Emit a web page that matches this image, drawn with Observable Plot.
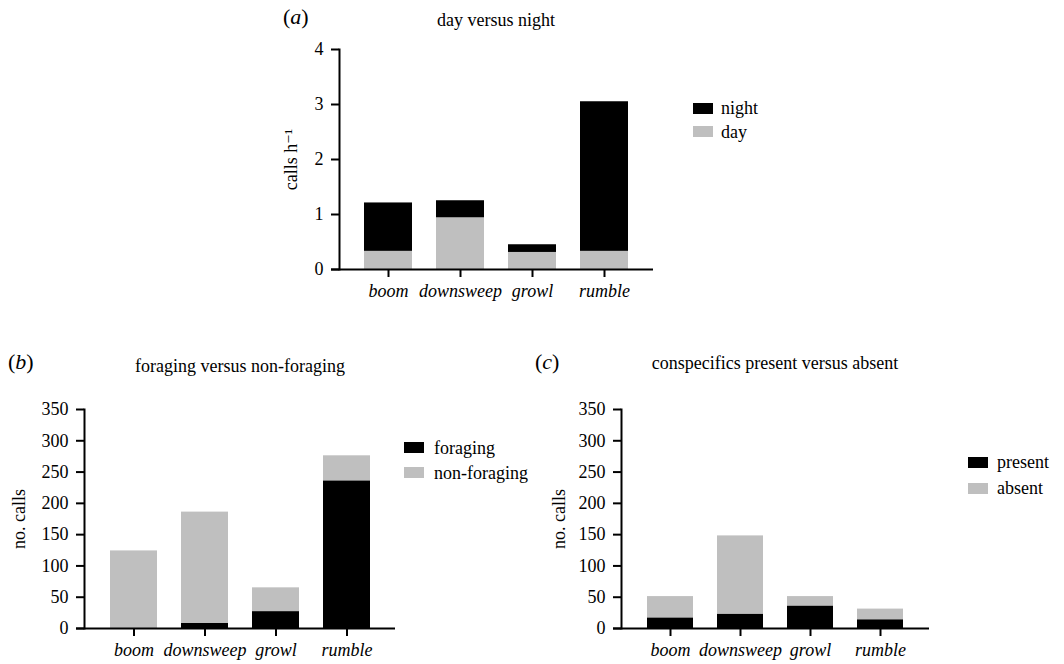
<!DOCTYPE html>
<html><head><meta charset="utf-8">
<script src="https://cdn.jsdelivr.net/npm/d3@7"></script>
<script src="https://cdn.jsdelivr.net/npm/@observablehq/plot@0.6"></script>
<style>
body{margin:0;background:#fff;font-family:"Liberation Serif","DejaVu Serif",serif;}
#root{position:relative;width:1064px;height:664px;overflow:hidden;}
#root svg text{font-family:"Liberation Serif","DejaVu Serif",serif !important;}
.abs{position:absolute;white-space:nowrap;color:#000;line-height:1;transform:translateY(-50%);}
.ctr{transform:translate(-50%,-50%);}
.panel{position:absolute;}
.t{font-size:18px;}
.letter{font-size:22px;}
.sw{position:absolute;width:20px;height:11px;}
</style></head>
<body><div id="root"></div>
<script>
const callTypes = ["boom", "downsweep", "growl", "rumble"];
// (a) day versus night, calls per hour
const dayRate = [0.33, 0.94, 0.31, 0.33];
const nightRate = [0.88, 0.31, 0.14, 2.72];
// (b) foraging versus non-foraging, number of calls
const foragingCount = [0, 8, 27, 236];
const nonForagingCount = [124, 178, 38, 40];
// (c) conspecifics present versus absent, number of calls
const presentCount = [17, 23, 36, 14];
const absentCount = [34, 125, 15, 17];

const ticksA = [0, 1, 2, 3, 4];
const ticksBC = [0, 50, 100, 150, 200, 250, 300, 350];

const BLACK = "#000000", GREY = "#bfbfbf";
const FONT = '"Liberation Serif", "DejaVu Serif", serif';
const root = document.getElementById("root");

function makePanel(o) {
  const rows = [];
  o.cats.forEach((c, i) => rows.push({cat: c, series: o.lowerName, v: o.lower[i]}));
  o.cats.forEach((c, i) => rows.push({cat: c, series: o.upperName, v: o.upper[i]}));
  const chart = Plot.plot({
    width: o.width, height: o.height,
    marginLeft: o.mL, marginRight: o.mR, marginTop: o.mT, marginBottom: o.mB,
    style: {fontFamily: FONT, fontSize: "18px", color: "#000", background: "transparent", overflow: "visible"},
    x: {domain: o.cats, padding: 0.34, label: null},
    y: {domain: o.yDomain, label: null},
    color: {domain: [o.blackName, o.greyName], range: [BLACK, GREY]},
    marks: [
      Plot.barY(rows, Plot.stackY({order: [o.lowerName, o.upperName]}, {x: "cat", y: "v", fill: "series"})),
      Plot.frame({anchor: "left", strokeWidth: 2, stroke: "#000"}),
      Plot.ruleY([0], {strokeWidth: 2, stroke: "#000", insetLeft: -8}),
      Plot.axisY({ticks: o.yTicks, tickFormat: d => String(d), tickSize: 8, tickPadding: 8, strokeWidth: 2,
        fontSize: 18, fontFamily: FONT,
        label: o.yLabel, labelAnchor: "center", labelArrow: "none", labelOffset: o.labelOffset}),
      Plot.axisX({tickSize: 8, tickPadding: 7, strokeWidth: 2, fontSize: 18, fontFamily: FONT, fontStyle: "italic", label: null})
    ]
  });
  const div = document.createElement("div");
  div.className = "panel";
  div.style.left = o.left + "px";
  div.style.top = o.top + "px";
  div.appendChild(chart);
  root.appendChild(div);
}

function text(str, x, y, cls, center) {
  const d = document.createElement("div");
  d.className = "abs " + cls + (center ? " ctr" : "");
  d.style.left = x + "px";
  d.style.top = y + "px";
  d.innerHTML = str;
  root.appendChild(d);
}
function swatch(color, x, y) {
  const d = document.createElement("div");
  d.className = "sw";
  d.style.left = x + "px";
  d.style.top = y + "px";
  d.style.background = color;
  root.appendChild(d);
}

// Panel (a): day (grey) at the bottom, night (black) on top
makePanel({cats: callTypes, lower: dayRate, upper: nightRate, lowerName: "day", upperName: "night",
  blackName: "night", greyName: "day",
  yDomain: [0, 4], yTicks: ticksA, yLabel: "calls h\u207B\u00B9",
  left: 250, top: 30, width: 450, height: 280, mL: 89, mR: 47, mT: 19, mB: 41, labelOffset: 55});
text("(<i>a</i>)", 283, 17, "letter");
text("day versus night", 496, 20, "t", true);
swatch(BLACK, 693, 103); text("night", 721, 108, "t");
swatch(GREY, 693, 126); text("day", 721, 131.5, "t");

// Panel (b): foraging (black) at the bottom, non-foraging (grey) on top
makePanel({cats: callTypes, lower: foragingCount, upper: nonForagingCount, lowerName: "foraging", upperName: "non-foraging",
  blackName: "foraging", greyName: "non-foraging",
  yDomain: [0, 350], yTicks: ticksBC, yLabel: "no. calls",
  left: 0, top: 390, width: 450, height: 274, mL: 84, mR: 55, mT: 19, mB: 36, labelOffset: 72});
text("(<i>b</i>)", 8, 362, "letter");
text("foraging versus non-foraging", 240, 366, "t", true);
swatch(BLACK, 404, 442); text("foraging", 434, 447.5, "t");
swatch(GREY, 404, 467); text("non-foraging", 434, 472.5, "t");

// Panel (c): present (black) at the bottom, absent (grey) on top
makePanel({cats: callTypes, lower: presentCount, upper: absentCount, lowerName: "present", upperName: "absent",
  blackName: "present", greyName: "absent",
  yDomain: [0, 350], yTicks: ticksBC, yLabel: "no. calls",
  left: 530, top: 390, width: 450, height: 274, mL: 91, mR: 51, mT: 19, mB: 36, labelOffset: 69});
text("(<i>c</i>)", 535, 362, "letter");
text("conspecifics present versus absent", 775, 363, "t", true);
swatch(BLACK, 968, 457); text("present", 997, 462, "t");
swatch(GREY, 968, 483); text("absent", 997, 488, "t");
</script>
</body></html>
